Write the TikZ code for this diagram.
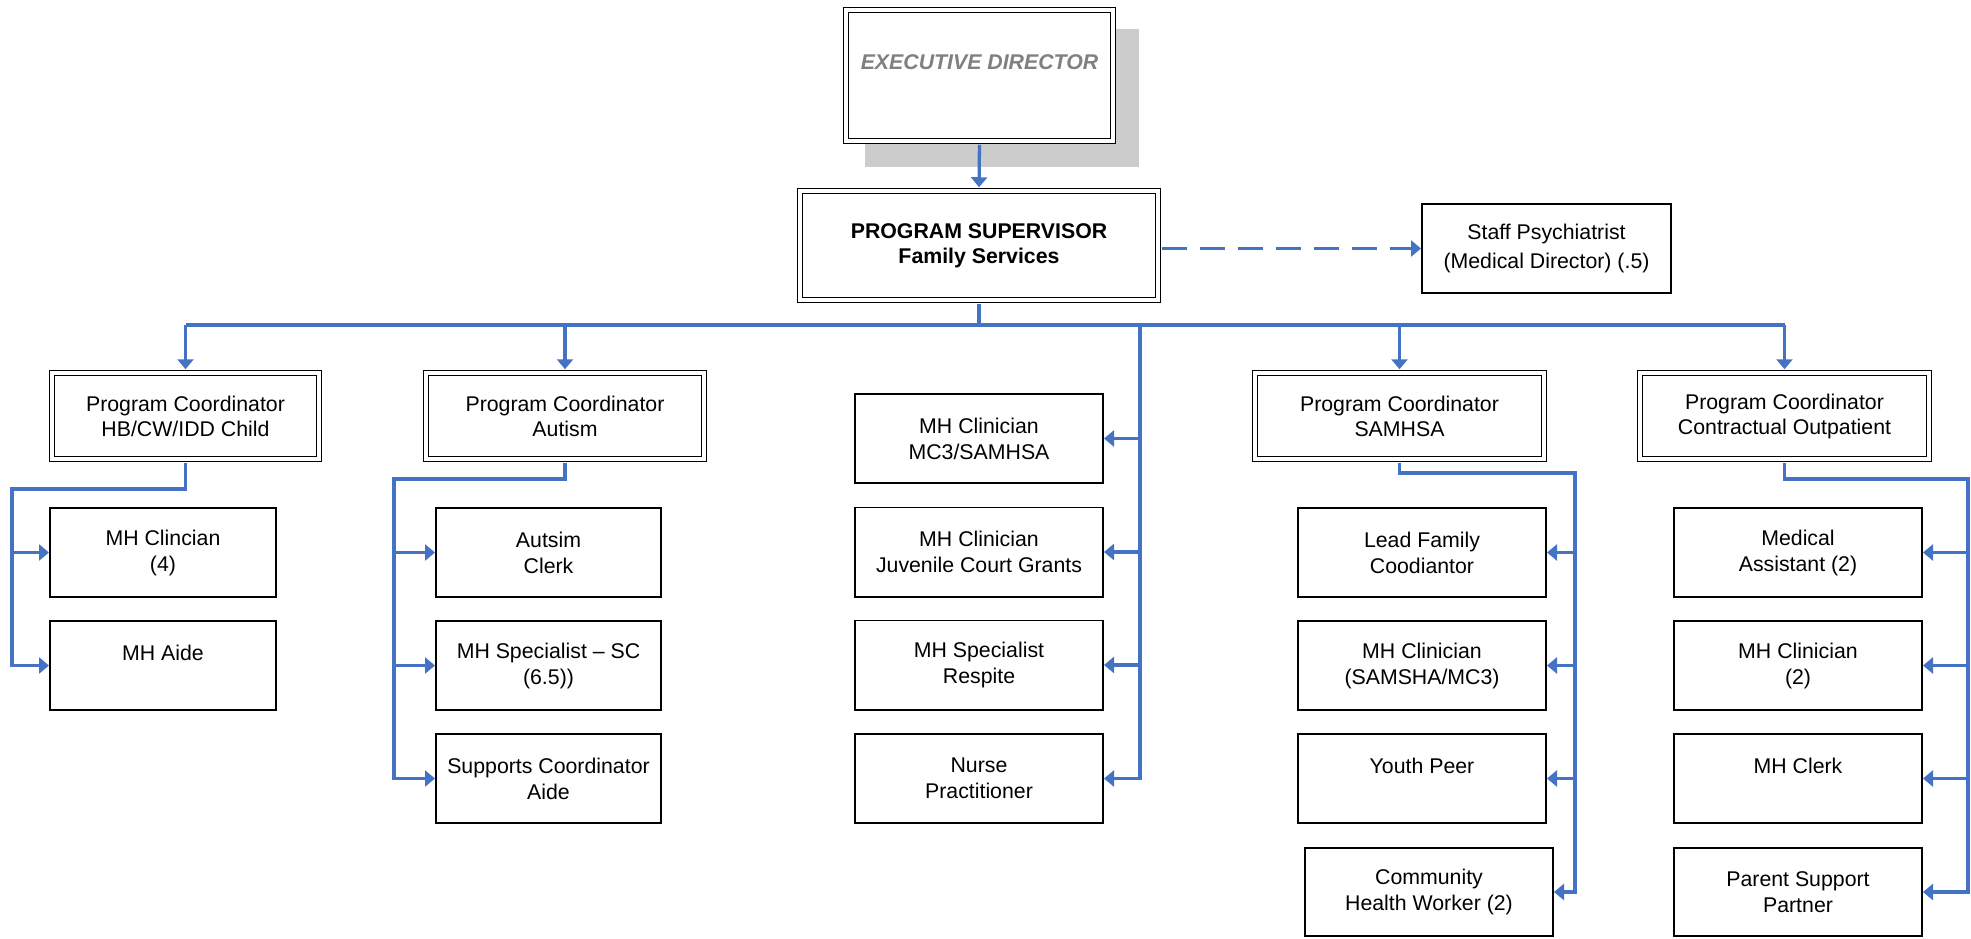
\documentclass[tikz,border=0pt]{standalone}
\usepackage{fontspec}
\setmainfont{Liberation Sans}
\usetikzlibrary{arrows.meta}
\definecolor{linkblue}{HTML}{4472C4}
\definecolor{shadowgray}{HTML}{CCCCCC}
\definecolor{execgray}{HTML}{808080}
\begin{document}
\begin{tikzpicture}[x=1pt,y=-1pt,
  every node/.style={font=\fontsize{21.3}{26}\selectfont, align=center, inner sep=0pt},
  dbox/.style={draw=black, double=white, double distance=3.5pt, line width=1.4pt, fill=white, minimum height=85.7pt},
  sbox/.style={draw=black, line width=1.8pt, fill=white, minimum width=248.2pt, minimum height=89.2pt},
  link/.style={draw=linkblue, line width=3.3pt},
  arr/.style={link, -{Triangle[length=10pt,width=16pt]}},
  dstart/.style={shorten <=3.2pt},
  dend/.style={shorten >=3.2pt},
]
\useasboundingbox (0,0) rectangle (1971,938);

% top
\fill[shadowgray] (865,29) rectangle (1139,167);
\node[dbox, minimum width=266.7pt, minimum height=130.7pt, text=execgray,
      font=\fontsize{21.3}{26}\selectfont\bfseries\itshape] (exec) at (979.5,75.5) {EXECUTIVE DIRECTOR\\\mbox{}};
\node[dbox, minimum width=357.7pt, minimum height=108.7pt,
      font=\fontsize{21.3}{25}\selectfont\bfseries] (ps) at (979,245.5) {PROGRAM SUPERVISOR\\Family Services};
\node[sbox, minimum width=249.2pt, font=\fontsize{21.3}{29}\selectfont] (staff) at (1546.5,248.5) {Staff Psychiatrist\\(Medical Director) (.5)};

% level 2
\node[dbox, minimum width=266.7pt, font=\fontsize{21.3}{25}\selectfont] (pc1) at (185.5,416) {Program Coordinator\\HB/CW/IDD Child};
\node[dbox, minimum width=277.7pt, font=\fontsize{21.3}{25}\selectfont] (pcaut) at (565,416) {Program Coordinator\\Autism};
\node[dbox, minimum width=288.7pt, font=\fontsize{21.3}{25}\selectfont] (pcsam) at (1399.5,416) {Program Coordinator\\SAMHSA};
\node[dbox, minimum width=288.7pt, font=\fontsize{21.3}{25}\selectfont] (pccon) at (1784.5,416) {Program Coordinator\\Contractual Outpatient};

% left group
\node[sbox, minimum width=226.2pt] (l1) at (163,552.5) {MH Clincian\\(4)};
\node[sbox, minimum width=226.2pt] (l2) at (163,665.5) {MH Aide\\\mbox{}};

% autism group
\node[sbox, minimum width=225.2pt] (a1) at (548.5,552.5) {Autsim\\Clerk};
\node[sbox, minimum width=225.2pt] (a2) at (548.5,665.5) {MH Specialist – SC\\(6.5))};
\node[sbox, minimum width=225.2pt] (a3) at (548.5,778.5) {Supports Coordinator\\Aide};

% middle group
\node[sbox] (m1) at (979,438.5) {MH Clinician\\MC3/SAMHSA};
\node[sbox] (m2) at (979,552) {MH Clinician\\Juvenile Court Grants};
\node[sbox] (m3) at (979,665) {MH Specialist\\Respite};
\node[sbox] (m4) at (979,778.5) {Nurse\\Practitioner};

% SAMHSA group
\node[sbox] (s1) at (1422,552.5) {Lead Family\\Coodiantor};
\node[sbox] (s2) at (1422,665.5) {MH Clinician\\(SAMSHA/MC3)};
\node[sbox] (s3) at (1422,778.5) {Youth Peer\\\mbox{}};
\node[sbox, minimum height=88.2pt] (s4) at (1429,892) {Community\\Health Worker (2)};

% contractual group
\node[sbox] (c1) at (1798,552.5) {Medical\\Assistant (2)};
\node[sbox] (c2) at (1798,665.5) {MH Clinician\\(2)};
\node[sbox] (c3) at (1798,778.5) {MH Clerk\\\mbox{}};
\node[sbox, minimum height=88.2pt] (c4) at (1798,892) {Parent Support\\Partner};

% connectors
\draw[arr, dstart, dend] (exec.south) -- (ps.north);
\draw[arr, dstart, dash pattern=on 25pt off 13pt] (ps.east |- staff.west) -- (staff.west);

\coordinate (bus) at (979,325);
\draw[link, dstart] (ps.south) -- (bus);
\draw[link] (bus -| pc1.north) -- (bus -| pccon.north);
\draw[arr, dend] (bus -| pc1.north) -- (pc1.north);
\draw[arr, dend] (bus -| pcaut.north) -- (pcaut.north);
\draw[arr, dend] (bus -| pcsam.north) -- (pcsam.north);
\draw[arr, dend] (bus -| pccon.north) -- (pccon.north);

\coordinate (mtrunk) at (1140,325);
\draw[arr] (mtrunk) -- (mtrunk |- m4.east) -- (m4.east);
\draw[arr] (mtrunk |- m1.east) -- (m1.east);
\draw[arr] (mtrunk |- m2.east) -- (m2.east);
\draw[arr] (mtrunk |- m3.east) -- (m3.east);

\coordinate (lx) at (12,489);
\draw[arr, dstart] (pc1.south) -- (pc1.south |- lx) -- (lx) -- (lx |- l2.west) -- (l2.west);
\draw[arr] (lx |- l1.west) -- (l1.west);

\coordinate (ax) at (394,479);
\draw[arr, dstart] (pcaut.south) -- (pcaut.south |- ax) -- (ax) -- (ax |- a3.west) -- (a3.west);
\draw[arr] (ax |- a1.west) -- (a1.west);
\draw[arr] (ax |- a2.west) -- (a2.west);

\coordinate (sx) at (1575,473);
\draw[arr, dstart] (pcsam.south) -- (pcsam.south |- sx) -- (sx) -- (sx |- s4.east) -- (s4.east);
\draw[arr] (sx |- s1.east) -- (s1.east);
\draw[arr] (sx |- s2.east) -- (s2.east);
\draw[arr] (sx |- s3.east) -- (s3.east);

\coordinate (cx) at (1968,479);
\draw[arr, dstart] (pccon.south) -- (pccon.south |- cx) -- (cx) -- (cx |- c4.east) -- (c4.east);
\draw[arr] (cx |- c1.east) -- (c1.east);
\draw[arr] (cx |- c2.east) -- (c2.east);
\draw[arr] (cx |- c3.east) -- (c3.east);
\end{tikzpicture}
\end{document}
